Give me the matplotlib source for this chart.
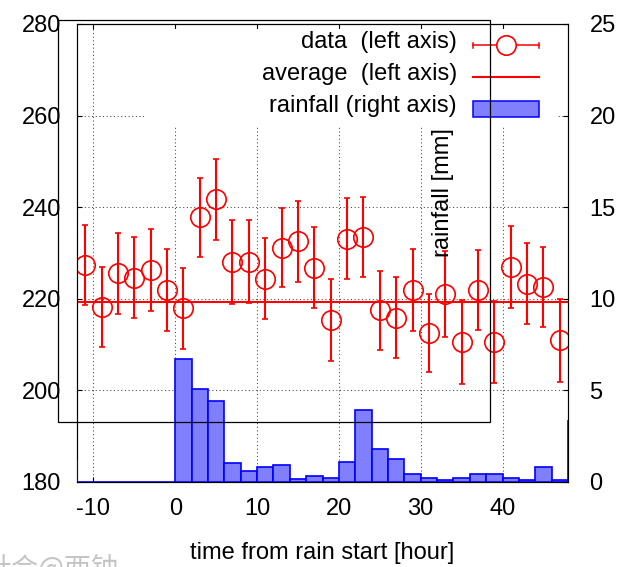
import matplotlib
matplotlib.use("Agg")
import matplotlib.pyplot as plt
from matplotlib.lines import Line2D
from matplotlib.patches import Rectangle

# observations: mean value every 2 hours with error bars (left axis)
hours = [-11, -9, -7, -5, -3, -1, 1, 3, 5, 7, 9, 11, 13, 15, 17,
         19, 21, 23, 25, 27, 29, 31, 33, 35, 37, 39, 41, 43, 45, 47]
values = [227.4, 218.2, 225.6, 224.6, 226.3, 221.9, 217.9, 237.8, 241.7, 228.0,
          228.1, 224.4, 231.2, 232.6, 226.8, 215.4, 233.1, 233.5, 217.5, 215.9,
          221.9, 212.5, 221.0, 210.6, 222.0, 210.6, 226.9, 223.3, 222.5, 210.9]
errors = [8.75, 8.8, 8.85, 8.9, 8.9, 8.9, 8.9, 8.65, 8.85, 9.15,
          9.05, 8.9, 8.7, 8.85, 8.9, 8.9, 8.8, 8.75, 8.65, 8.85,
          8.9, 8.55, 9.35, 9.15, 8.75, 9.0, 8.9, 8.8, 8.75, 9.05]
average = 219.4

# rainfall histogram, 2 hour bins (right axis)
bin_left = [-14, -12, -10, -8, -6, -4, -2, 0, 2, 4, 6, 8, 10, 12, 14, 16,
            18, 20, 22, 24, 26, 28, 30, 32, 34, 36, 38, 40, 42, 44, 46, 48]
rain = [1.15, 0, 0, 0, 0, 0, 0, 6.71, 5.06, 4.44, 1.04, 0.62, 0.84, 0.95, 0.15, 0.35,
        0.24, 1.11, 3.93, 1.82, 1.24, 0.44, 0.24, 0.13, 0.24, 0.44, 0.44, 0.24, 0.13, 0.84, 0.13, 3.35]

labels = ["data  (left axis)", "average  (left axis)", "rainfall (right axis)"]

W, H = 621, 567
FS = 17
plt.rcParams['font.family'] = ['Liberation Sans', 'DejaVu Sans']
plt.rcParams['font.size'] = FS
plt.rcParams['axes.unicode_minus'] = False


def px(x, y):
    return x / W, 1 - y / H


fig = plt.figure(figsize=(W / 100, H / 100), dpi=100)
ax = fig.add_axes([77 / W, 85 / H, 491 / W, 458 / H])
ax2 = ax.twinx()

ax.set_xlim(-12, 48)
ax.set_ylim(180, 280)
ax2.set_ylim(0, 25)
ax.set_xticks([-10, 0, 10, 20, 30, 40])
ax.set_yticks([180, 200, 220, 240, 260, 280])
ax2.set_yticks([0, 5, 10, 15, 20, 25])

ax.set_axisbelow(True)
ax.grid(True, color='#444444', lw=0.75, linestyle=(0, (1, 2.5)))
ax.tick_params(axis='both', direction='in', length=3.6, width=0.8,
               top=True, right=False, labelsize=FS)
ax.tick_params(axis='y', pad=11.5)
ax.tick_params(axis='x', pad=11.5)
ax2.tick_params(axis='y', direction='in', length=3.6, width=0.8, pad=15.5, labelsize=FS)

ax.errorbar(hours, values, yerr=errors, fmt='o', color='red', mfc='none', mec='red',
            ms=14, mew=1.2, elinewidth=1.5, capsize=2.3, capthick=1.5, zorder=3)
ax.axhline(average, color='red', lw=1.5, zorder=3)

# bars above the spines so the blue outline shows along the frame edges
ax2.bar(bin_left, rain, width=2, align='edge', color='#8080ff',
        edgecolor='#0000ff', lw=1.2, zorder=2.6)

# opaque key box (gnuplot style, text right-justified before the sample)
ax.add_patch(Rectangle(px(144, 127), 413 / W, 98 / H, transform=fig.transFigure,
                       facecolor='white', edgecolor='none', zorder=1))
rows = [45, 77, 109]
for lab, y in zip(labels, rows):
    fx, fy = px(457, y - 3)
    fig.text(fx, fy, lab, ha='right', va='center', fontsize=FS)

x0, x1 = 473 / W, 539 / W
y = 1 - rows[0] / H
fig.add_artist(Line2D([x0, x1], [y, y], color='red', lw=1.1, transform=fig.transFigure))
for xc in (x0, x1):
    fig.add_artist(Line2D([xc, xc], [y - 2.5 / H, y + 2.5 / H], color='red', lw=1.1,
                          transform=fig.transFigure))
fig.add_artist(Line2D([506 / W], [y], marker='o', ms=14, mfc='white', mec='red', mew=1.2,
                      transform=fig.transFigure))
y = 1 - rows[1] / H
fig.add_artist(Line2D([x0, x1], [y, y], color='red', lw=1.5, transform=fig.transFigure))
fig.add_artist(Rectangle(px(473, 117), 66 / W, 16 / H, transform=fig.transFigure,
                         facecolor='#8080ff', edgecolor='#0000ff', lw=1.1))

# stray frame of a second plot
fig.add_artist(Rectangle(px(58, 422), 432 / W, 402 / H, transform=fig.transFigure,
                         fill=False, edgecolor='black', lw=0.9, zorder=5))

fx, fy = px(443, 193)
fig.text(fx, fy, "rainfall [mm]", rotation=90, ha='center', va='center', fontsize=FS)
fx, fy = px(322, 553)
fig.text(fx, fy, "time from rain start [hour]", ha='center', va='center', fontsize=FS)

# faint watermark, cut by the lower edge as in the source picture
fx, fy = px(-16, 555)
fig.text(fx, fy, "社会@西钟", ha='left', va='top', fontsize=19.5, color='#c4c4c4',
         family=['Noto Sans CJK SC', 'DejaVu Sans'])

fig.savefig("out.png", dpi=100)
